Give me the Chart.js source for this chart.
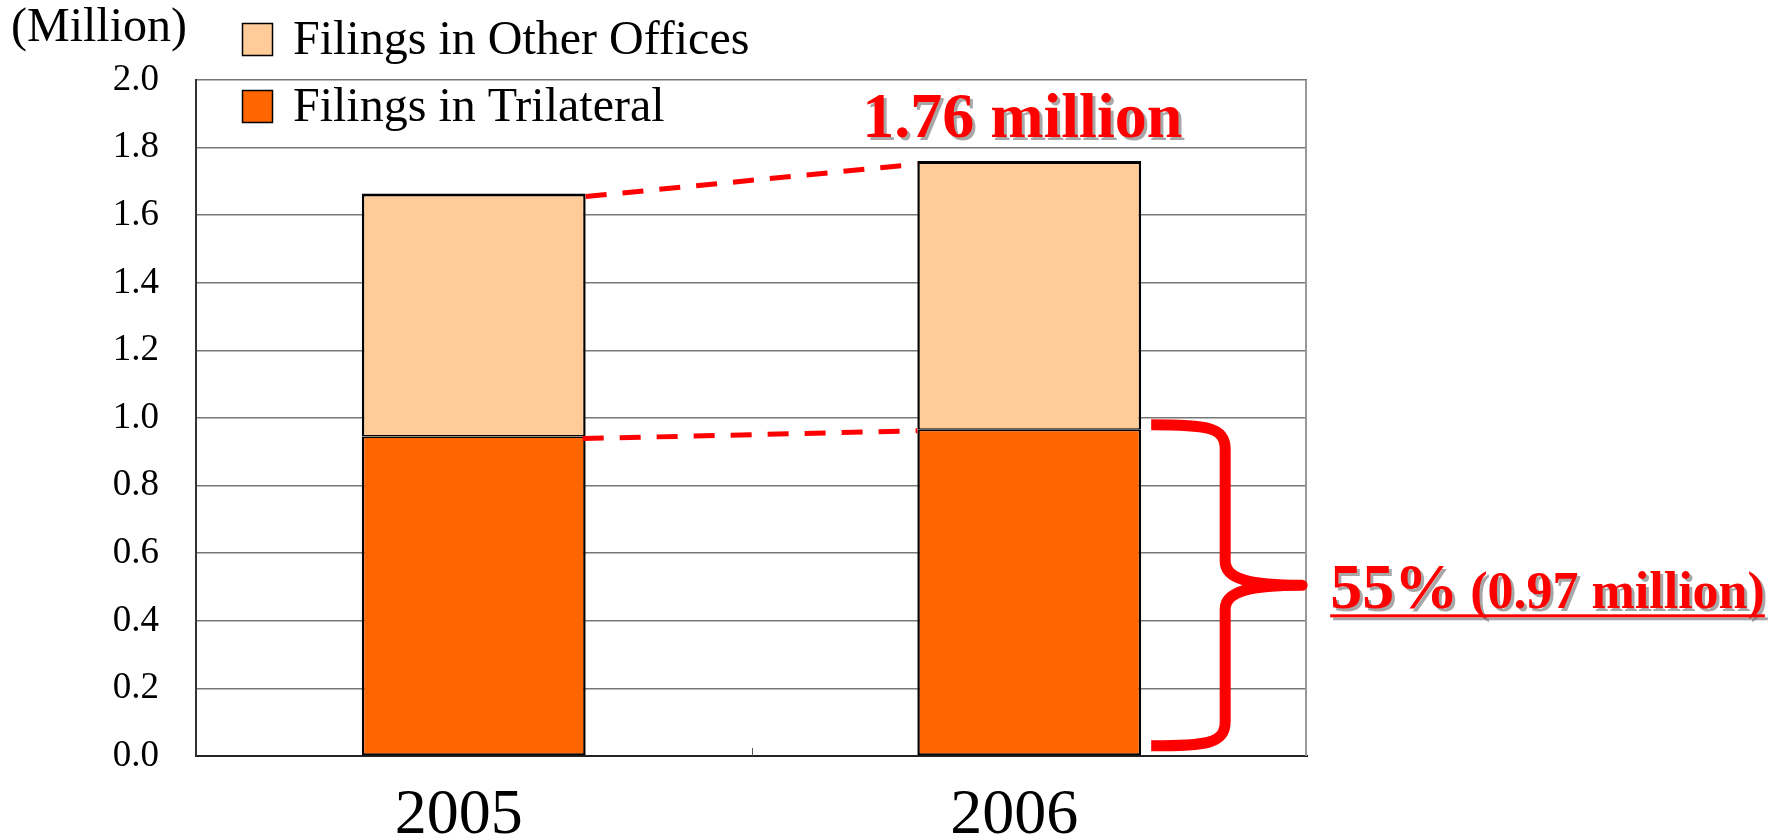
<!DOCTYPE html>
<html>
<head>
<meta charset="utf-8">
<script src="https://cdn.jsdelivr.net/npm/chart.js@4.4.1/dist/chart.umd.min.js"></script>
<style>
html,body{margin:0;padding:0;background:#fff;}
#wrap{width:1782px;height:837px;position:relative;}
canvas{display:block;}
</style>
</head>
<body>
<div id="wrap"><canvas id="c" width="1782" height="837"></canvas></div>
<script>
// ---- data ----
const categories = ['2005', '2006'];
const trilateral = [0.945, 0.965];
const otherOffices = [0.719, 0.795];
const seriesLabels = ['Filings in Trilateral', 'Filings in Other Offices'];
const seriesColors = ['#FF6600', '#FFCC99'];
const yTickValues = [0, 0.2, 0.4, 0.6, 0.8, 1.0, 1.2, 1.4, 1.6, 1.8, 2.0];
const yTickLabels = ['0.0', '0.2', '0.4', '0.6', '0.8', '1.0', '1.2', '1.4', '1.6', '1.8', '2.0'];
const unitLabel = '(Million)';
const totalLabel = '1.76 million';
const shareBig = '55%';
const shareSmall = '(0.97 million)';
const totalValue2006 = 1.76;
const braceTop = 0.98, braceBottom = 0.03;

const SERIF = "'Liberation Serif', 'Times New Roman', serif";
const RED = '#ff0000';

function withShadow(ctx, fn) {
  ctx.save();
  ctx.shadowColor = 'rgba(120,120,120,0.65)';
  ctx.shadowOffsetX = 3;
  ctx.shadowOffsetY = 3;
  ctx.shadowBlur = 0;
  fn();
  ctx.restore();
}

const decor = {
  id: 'decor',
  beforeDatasetsDraw(chart) {
    const ctx = chart.ctx, a = chart.chartArea, xs = chart.scales.x;
    ctx.save();
    ctx.strokeStyle = '#999';
    ctx.lineWidth = 2;
    ctx.beginPath();
    ctx.moveTo(a.right - 1, a.top);
    ctx.lineTo(a.right - 1, a.bottom);
    ctx.stroke();
    const mx = (xs.getPixelForValue(0) + xs.getPixelForValue(1)) / 2;
    ctx.strokeStyle = '#555';
    ctx.lineWidth = 1;
    ctx.beginPath();
    ctx.moveTo(Math.round(mx) + 0.5, a.bottom);
    ctx.lineTo(Math.round(mx) + 0.5, a.bottom - 8);
    ctx.stroke();
    ctx.restore();
  },
  afterDatasetsDraw(chart) {
    const ctx = chart.ctx, ys = chart.scales.y;
    const low = chart.getDatasetMeta(0).data;
    const high = chart.getDatasetMeta(1).data;

    ctx.save();
    ctx.strokeStyle = RED;
    ctx.lineWidth = 5;
    ctx.setLineDash([21, 16]);
    ctx.beginPath();
    ctx.moveTo(high[0].x + high[0].width / 2, high[0].y + 3);
    ctx.lineTo(high[1].x - high[1].width / 2, high[1].y + 3);
    ctx.stroke();
    ctx.beginPath();
    ctx.moveTo(low[0].x + low[0].width / 2 - 3, low[0].y + 2);
    ctx.lineTo(low[1].x - low[1].width / 2, low[1].y + 1);
    ctx.stroke();
    ctx.restore();

    const L = low[1].x + low[1].width / 2 + 10;
    const S = L + 74;
    const T = L + 151;
    const top = ys.getPixelForValue(braceTop);
    const bot = ys.getPixelForValue(braceBottom);
    const mid = (top + bot) / 2;
    ctx.save();
    ctx.strokeStyle = RED;
    ctx.lineWidth = 11;
    ctx.lineCap = 'butt';
    ctx.lineJoin = 'round';
    ctx.beginPath();
    ctx.moveTo(L, top);
    ctx.bezierCurveTo(L + 55, top, S, top + 2, S, top + 24);
    ctx.lineTo(S, mid - 24);
    ctx.bezierCurveTo(S, mid - 6, S + 25, mid, T, mid);
    ctx.bezierCurveTo(S + 25, mid, S, mid + 6, S, mid + 24);
    ctx.lineTo(S, bot - 24);
    ctx.bezierCurveTo(S, bot - 2, L + 55, bot, L, bot);
    ctx.stroke();
    ctx.restore();

    withShadow(ctx, () => {
      ctx.fillStyle = RED;
      ctx.font = 'bold 64px ' + SERIF;
      ctx.textAlign = 'center';
      ctx.textBaseline = 'alphabetic';
      ctx.fillText(totalLabel, high[1].x - 7, ys.getPixelForValue(totalValue2006) - 24);
    });

    withShadow(ctx, () => {
      const x0 = T + 28;
      const by = mid + 23;
      ctx.fillStyle = RED;
      ctx.textAlign = 'left';
      ctx.textBaseline = 'alphabetic';
      ctx.font = 'bold 64px ' + SERIF;
      ctx.fillText(shareBig, x0, by);
      const w1 = ctx.measureText(shareBig + ' ').width;
      ctx.font = 'bold 52px ' + SERIF;
      ctx.fillText(shareSmall, x0 + w1 - 4, by);
      const w2 = ctx.measureText(shareSmall).width;
      ctx.fillRect(x0, by + 6, w1 - 4 + w2, 3);
    });
  },
  afterDraw(chart) {
    const ctx = chart.ctx;
    ctx.save();
    ctx.fillStyle = '#000';
    ctx.font = '48px ' + SERIF;
    ctx.textAlign = 'left';
    ctx.textBaseline = 'alphabetic';
    ctx.fillText(unitLabel, 11, 41);
    const order = [1, 0];
    order.forEach((di, i) => {
      const ds = chart.data.datasets[di];
      const y = 23 + i * 67;
      ctx.fillStyle = ds.backgroundColor;
      ctx.fillRect(242, y, 31, 33);
      ctx.strokeStyle = '#000';
      ctx.lineWidth = 1.5;
      ctx.strokeRect(242.5, y + 0.5, 30, 32);
      ctx.fillStyle = '#000';
      ctx.font = '48px ' + SERIF;
      ctx.fillText(ds.label, 293, y + 31);
    });
    ctx.restore();
  }
};

new Chart(document.getElementById('c'), {
  type: 'bar',
  data: {
    labels: categories,
    datasets: [
      {
        label: seriesLabels[0],
        data: trilateral,
        backgroundColor: seriesColors[0],
        borderColor: '#000',
        borderWidth: {top: 1.5, left: 2.5, right: 2.5, bottom: 2},
        borderSkipped: false
      },
      {
        label: seriesLabels[1],
        data: otherOffices,
        backgroundColor: seriesColors[1],
        borderColor: '#000',
        borderWidth: {top: 3, left: 2.5, right: 2.5, bottom: 1.5},
        borderSkipped: false
      }
    ]
  },
  options: {
    responsive: false,
    animation: false,
    devicePixelRatio: 1,
    barPercentage: 0.403,
    categoryPercentage: 1,
    layout: {padding: {top: 80, right: 475, bottom: 0, left: 0}},
    plugins: {legend: {display: false}, tooltip: {enabled: false}},
    scales: {
      x: {
        stacked: true,
        grid: {display: false, drawTicks: false},
        border: {display: true, color: '#222', width: 2},
        ticks: {
          color: '#000',
          font: {family: SERIF, size: 64, lineHeight: 1.2},
          padding: 22,
          labelOffset: -15,
          maxRotation: 0
        },
        afterFit(s) { s.height = 81; }
      },
      y: {
        stacked: true,
        min: 0,
        max: 2,
        afterBuildTicks(s) { s.ticks = yTickValues.map(v => ({value: v})); },
        ticks: {
          color: '#000',
          font: {family: SERIF, size: 37},
          padding: 37,
          callback: (v, i) => yTickLabels[i]
        },
        grid: {color: '#777', lineWidth: 1.5, drawTicks: false},
        border: {display: true, color: '#333', width: 2},
        afterFit(s) { s.width = 196; }
      }
    }
  },
  plugins: [decor]
});
</script>
</body>
</html>
